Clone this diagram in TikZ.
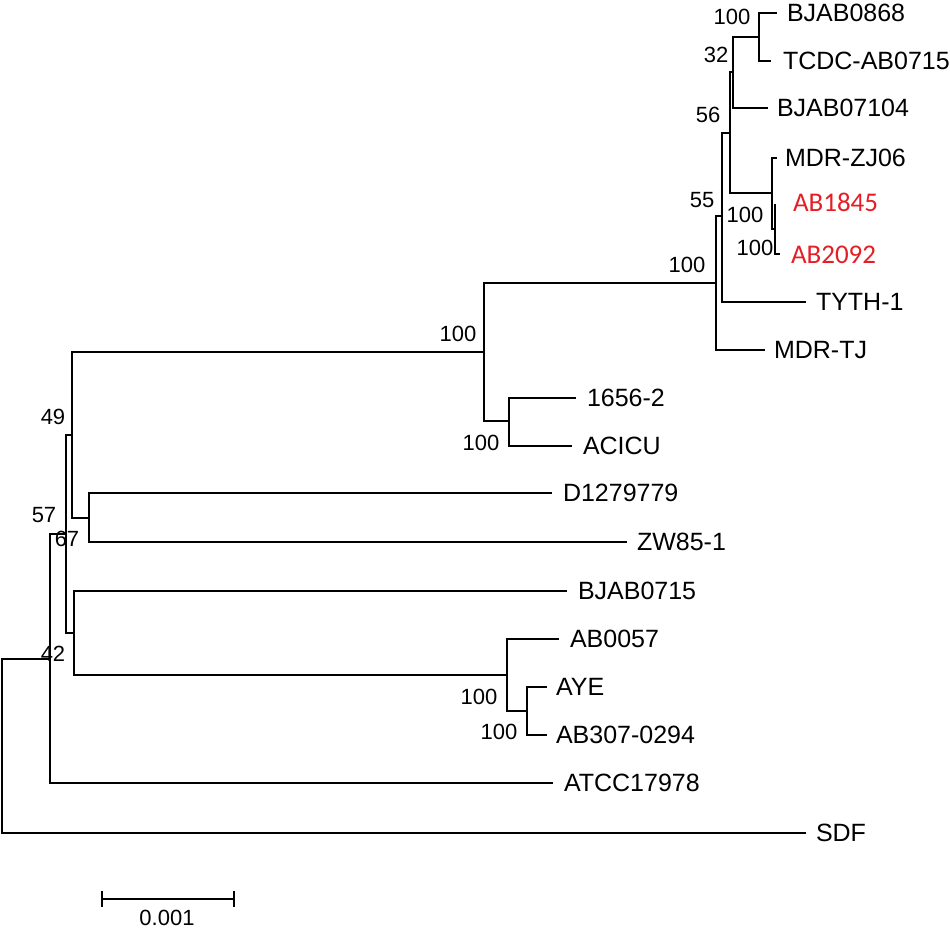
\documentclass[tikz,border=0pt]{standalone}
\usepackage{fontspec}
\setmainfont{Liberation Sans}
\newfontfamily\calfont{Carlito}
\definecolor{isored}{RGB}{228,30,36}

\tikzset{
  leaf/.style={anchor=base west, inner sep=0pt, font=\fontsize{25}{30}\selectfont},
  redleaf/.style={leaf, text=isored, font=\calfont\fontsize{27}{32}\selectfont},
  boot/.style={inner sep=0pt, font=\fontsize{22}{26}\selectfont},
}

\begin{document}
\begin{tikzpicture}[x=1pt,y=-1pt,line width=2pt]
    \useasboundingbox (0,0) rectangle (950,931);
    % internal nodes
    \coordinate (root) at (2,746);
    \coordinate (n42) at (50,659);
    \coordinate (n57) at (66,534);
    \coordinate (n49) at (72,435);
    \coordinate (nD) at (89,518);
    \coordinate (nB) at (74,633);
    \coordinate (nAB) at (507,675);
    \coordinate (nAYE) at (527,711);
    \coordinate (n100c) at (484,352);
    \coordinate (n1656) at (509,421);
    \coordinate (n100b) at (716,283);
    \coordinate (n55) at (722,216);
    \coordinate (n56) at (730,133);
    \coordinate (n32) at (733,72);
    \coordinate (n0868) at (759,37);
    \coordinate (nZJ) at (772,193);
    \coordinate (nAB18) at (775,229);
    % tips
    \coordinate (tBJ0868) at (777,13);
    \coordinate (tTCDC) at (771,61);
    \coordinate (tBJ07104) at (768,108);
    \coordinate (tZJ06) at (777,158);
    \coordinate (tAB1845) at (775,204);
    \coordinate (tAB2092) at (780,254);
    \coordinate (tTYTH) at (806,302);
    \coordinate (tMDRTJ) at (765,350);
    \coordinate (t1656) at (576,398);
    \coordinate (tACICU) at (572,446);
    \coordinate (tD127) at (552,493);
    \coordinate (tZW) at (627,542);
    \coordinate (tBJ0715) at (567,591);
    \coordinate (tAB0057) at (559,639);
    \coordinate (tAYE) at (547,687);
    \coordinate (tAB307) at (547,735);
    \coordinate (tATCC) at (553,783);
    \coordinate (tSDF) at (806,833);

    % branches
    \foreach \p/\c in {root/n42, root/tSDF, n42/n57, n42/tATCC, n57/n49, n57/nB,
        n49/n100c, n49/nD, nD/tD127, nD/tZW, nB/tBJ0715, nB/nAB,
        nAB/tAB0057, nAB/nAYE, nAYE/tAYE, nAYE/tAB307,
        n100c/n100b, n100c/n1656, n1656/t1656, n1656/tACICU,
        n100b/n55, n100b/tMDRTJ, n55/n56, n55/tTYTH, n56/n32, n56/nZJ,
        n32/n0868, n32/tBJ07104, n0868/tBJ0868, n0868/tTCDC,
        nZJ/tZJ06, nZJ/nAB18, nAB18/tAB1845, nAB18/tAB2092}
        \draw (\p) |- (\c);

    % leaf names
    \node[leaf] (BJAB0868) at (786,21.5) {BJAB0868};
    \node[leaf] (TCDC) at (782,69.5) {TCDC-AB0715};
    \node[leaf] (BJAB07104) at (776,116.5) {BJAB07104};
    \node[leaf] (ZJ06) at (784,166.5) {MDR-ZJ06};
    \node[redleaf] (AB1845) at (792,211) {AB1845};
    \node[redleaf] (AB2092) at (790,263) {AB2092};
    \node[leaf] (TYTH) at (815,310.5) {TYTH-1};
    \node[leaf] (MDRTJ) at (773,358.5) {MDR-TJ};
    \node[leaf] (s1656) at (586,406.5) {1656-2};
    \node[leaf] (ACICU) at (582,454.5) {ACICU};
    \node[leaf] (D127) at (562,501.5) {D1279779};
    \node[leaf] (ZW) at (636,550.5) {ZW85-1};
    \node[leaf] (BJAB0715) at (577,599.5) {BJAB0715};
    \node[leaf] (AB0057) at (569,647.5) {AB0057};
    \node[leaf] (AYE) at (555,695.5) {AYE};
    \node[leaf] (AB307) at (555,743.5) {AB307-0294};
    \node[leaf] (ATCC) at (563,791.5) {ATCC17978};
    \node[leaf] (SDF) at (815,841.5) {SDF};

    % bootstrap values
    \node[boot] (b0868) at (732,17) {100};
    \node[boot] (b32) at (716,55) {32};
    \node[boot] (b56) at (708,115) {56};
    \node[boot] (b55) at (702,200) {55};
    \node[boot] (bZJ) at (745,215) {100};
    \node[boot] (bAB18) at (755,248) {100};
    \node[boot] (b100b) at (687,265) {100};
    \node[boot] (b100c) at (458,334) {100};
    \node[boot] (b1656) at (481,443) {100};
    \node[boot] (b49) at (53,417) {49};
    \node[boot] (b57) at (44,515) {57};
    \node[boot] (b67) at (67,539) {67};
    \node[boot] (b42) at (53,654) {42};
    \node[boot] (bAB) at (479,697) {100};
    \node[boot] (bAYE) at (499,732) {100};

    % scale bar
    \coordinate (sbL) at (102,899);
    \coordinate (sbR) at (234,899);
    \draw (sbL) -- (sbR);
    \draw ([yshift=8pt]sbL) -- ([yshift=-8pt]sbL);
    \draw ([yshift=8pt]sbR) -- ([yshift=-8pt]sbR);
    \node[boot] (sblab) at (167,918) {0.001};
\end{tikzpicture}
\end{document}
